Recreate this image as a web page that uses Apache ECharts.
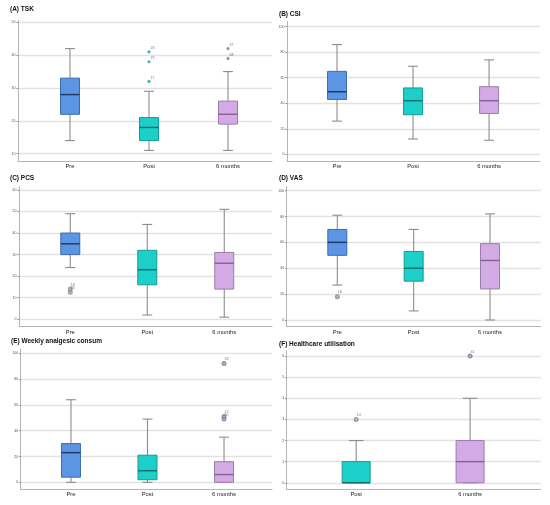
<!DOCTYPE html>
<html>
<head>
<meta charset="utf-8">
<script src="https://cdn.jsdelivr.net/npm/echarts@6/dist/echarts.min.js"></script>
<style>
html, body { margin: 0; padding: 0; background: #fff; }
#chart { width: 550px; height: 505px; }
</style>
</head>
<body>
<div id="chart"></div>
<script>
var timeCategories = ['Pre', 'Post', '6 months'];
var utilCategories = ['Post', '6 months'];

// each box: [low whisker, Q1, median, Q3, high whisker]
var tskBoxes = [[14, 22, 28, 33, 42], [11, 14, 18, 21, 29], [11, 19, 22, 26, 35]];
var tskOutliers = [[1, 32, '17'], [1, 38, '37'], [1, 41, '23'], [2, 39, '68'], [2, 42, '37']];
var tskTicks = [10, 20, 30, 40, 50];

var csiBoxes = [[26, 43, 49, 65, 86], [12, 31, 42, 52, 69], [11, 32, 42, 53, 74]];
var csiOutliers = [];
var csiTicks = [0, 20, 40, 60, 80, 100];

var pcsBoxes = [[24, 30, 35, 40, 49], [2, 16, 23, 32, 44], [1, 14, 26, 31, 51]];
var pcsOutliers = [[0, 14, '18'], [0, 12.5, '25']];
var pcsTicks = [0, 10, 20, 30, 40, 50, 60];

var vasBoxes = [[27, 50, 60, 70, 81], [7, 30, 40, 53, 70], [0, 24, 46, 59, 82]];
var vasOutliers = [[0, 18, '18']];
var vasTicks = [0, 20, 40, 60, 80, 100];

var analgesicBoxes = [[0, 4, 23, 30, 64], [0, 2, 9, 21, 49], [0, 0, 6, 16, 35]];
var analgesicOutliers = [[2, 92, '18'], [2, 51, '12'], [2, 49, '50']];
var analgesicTicks = [0, 20, 40, 60, 80, 100];

var utilBoxes = [[0, 0, 0, 1, 2], [0, 0, 1, 2, 4]];
var utilOutliers = [[0, 3, '14'], [1, 6, '31']];
var utilTicks = [0, 1, 2, 3, 4, 5, 6];

var catStyle = {
    'Pre': { fill: '#5b95e3', border: '#3c6cae', median: '#1d3966', dot: '#888888' },
    'Post': { fill: '#1dcfc9', border: '#149c97', median: '#0e6f6b', dot: '#888888' },
    '6 months': { fill: '#d3aae6', border: '#9a7eab', median: '#7f6390', dot: '#8a72a0' }
};
var filledDot = { 'Post': '#17a19c', '6 months': '#8a72a0' };
var whiskerColor = '#8d8d8d';
var font = 'Liberation Sans';

var panels = [
    { title: '(A) TSK', cats: timeCategories, boxes: tskBoxes, outliers: tskOutliers, ticks: tskTicks,
      titleAt: [10, 6], grid: [18, 20.5, 254, 140.5], y: [7.78, 50.55], x: [-0.658, 2.557], boxW: 19, filled: true },
    { title: '(B) CSI', cats: timeCategories, boxes: csiBoxes, outliers: csiOutliers, ticks: csiTicks,
      titleAt: [279, 11], grid: [287, 21.7, 253, 139.3], y: [-5.25, 103.9], x: [-0.658, 2.67], boxW: 19 },
    { title: '(C) PCS', cats: timeCategories, boxes: pcsBoxes, outliers: pcsOutliers, ticks: pcsTicks,
      titleAt: [10, 174.5], grid: [19, 186.7, 253, 140], y: [-3.43, 61.5], x: [-0.666, 2.62], boxW: 19 },
    { title: '(D) VAS', cats: timeCategories, boxes: vasBoxes, outliers: vasOutliers, ticks: vasTicks,
      titleAt: [279, 175], grid: [286.7, 186.5, 254, 140.2], y: [-5.2, 103.2], x: [-0.663, 2.664], boxW: 19 },
    { title: '(E) Weekly analgesic consum', cats: timeCategories, boxes: analgesicBoxes, outliers: analgesicOutliers, ticks: analgesicTicks,
      titleAt: [11, 337.5], grid: [20.7, 349, 251.3, 140.3], y: [-5.4, 103.3], x: [-0.657, 2.627], boxW: 19 },
    { title: '(F) Healthcare utilisation', cats: utilCategories, boxes: utilBoxes, outliers: utilOutliers, ticks: utilTicks,
      titleAt: [279, 341], grid: [286.7, 351, 254, 138.3], y: [-0.31, 6.24], x: [-0.61, 1.62], boxW: 28 }
];

function boxRenderer(p) {
    return function (params, api) {
        var st = catStyle[p.cats[params.dataIndex]];
        var xv = api.value(0);
        var lo = api.coord([xv, api.value(1)]);
        var q1 = api.coord([xv, api.value(2)]);
        var md = api.coord([xv, api.value(3)]);
        var q3 = api.coord([xv, api.value(4)]);
        var hi = api.coord([xv, api.value(5)]);
        var cx = lo[0];
        var hw = p.boxW / 2;
        var cw = p.boxW * 0.26;
        var wStyle = { stroke: whiskerColor, lineWidth: 1.1 };
        return {
            type: 'group',
            children: [
                { type: 'line', shape: { x1: cx, y1: q3[1], x2: cx, y2: hi[1] }, style: wStyle },
                { type: 'line', shape: { x1: cx, y1: q1[1], x2: cx, y2: lo[1] }, style: wStyle },
                { type: 'line', shape: { x1: cx - cw, y1: hi[1], x2: cx + cw, y2: hi[1] }, style: wStyle },
                { type: 'line', shape: { x1: cx - cw, y1: lo[1], x2: cx + cw, y2: lo[1] }, style: wStyle },
                { type: 'rect', shape: { x: cx - hw, y: q3[1], width: p.boxW, height: q1[1] - q3[1] },
                  style: { fill: st.fill, stroke: st.border, lineWidth: 1 } },
                { type: 'line', shape: { x1: cx - hw, y1: md[1], x2: cx + hw, y2: md[1] },
                  style: { stroke: st.median, lineWidth: 1.4 } }
            ]
        };
    };
}

var option = {
    animation: false,
    backgroundColor: '#fff',
    title: [], grid: [], xAxis: [], yAxis: [], series: []
};

panels.forEach(function (p, i) {
    option.title.push({
        text: p.title, left: p.titleAt[0], top: p.titleAt[1], padding: 0,
        textStyle: { fontFamily: font, fontSize: 6.5, fontWeight: 'bold', color: '#111' }
    });
    option.grid.push({ left: p.grid[0], top: p.grid[1], width: p.grid[2], height: p.grid[3] });
    option.xAxis.push({
        gridIndex: i, type: 'value', min: p.x[0], max: p.x[1], position: 'bottom',
        axisLine: { show: true, onZero: false, lineStyle: { color: '#b5b5b5', width: 1 } },
        axisTick: { show: false },
        splitLine: { show: false },
        axisLabel: {
            customValues: p.cats.map(function (c, k) { return k; }),
            formatter: function (v) { return p.cats[Math.round(v)]; },
            fontFamily: font, fontSize: 5.8, color: '#222', margin: 2.5
        }
    });
    option.yAxis.push({
        gridIndex: i, type: 'value', min: p.y[0], max: p.y[1], position: 'left',
        axisLine: { show: true, onZero: false, lineStyle: { color: '#b5b5b5', width: 1 } },
        axisTick: { show: true, customValues: p.ticks, length: 1.5, lineStyle: { color: '#888' } },
        splitLine: { show: true, lineStyle: { color: '#e2e2e2', width: 1.3 } },
        axisLabel: { customValues: p.ticks, fontFamily: font, fontSize: 3.6, color: '#555', margin: 2.5 }
    });
    option.series.push({
        type: 'custom', xAxisIndex: i, yAxisIndex: i,
        renderItem: boxRenderer(p),
        encode: { x: 0, y: [1, 2, 3, 4, 5] },
        data: p.boxes.map(function (b, k) { return [k].concat(b); })
    });
    option.series.push({
        type: 'scatter', xAxisIndex: i, yAxisIndex: i,
        symbol: p.filled ? 'circle' : 'emptyCircle',
        symbolSize: p.filled ? 3.2 : 3,
        z: 5,
        data: p.outliers.map(function (o) {
            var cat = p.cats[o[0]];
            return {
                value: [o[0], o[1]], name: o[2],
                itemStyle: p.filled ? { color: filledDot[cat] } : { color: catStyle[cat].dot, borderWidth: 0.6 }
            };
        }),
        label: {
            show: true, formatter: '{b}', position: [3, -4],
            fontFamily: font, fontSize: 3.6, color: '#555'
        }
    });
});

var chart = echarts.init(document.getElementById('chart'), null, { renderer: 'canvas' });
chart.setOption(option);
</script>
</body>
</html>
